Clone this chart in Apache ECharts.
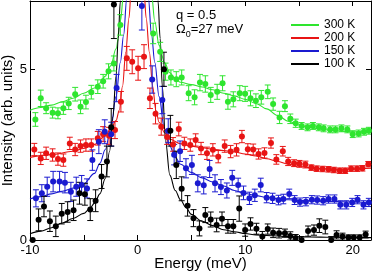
<!DOCTYPE html>
<html><head><meta charset="utf-8">
<script src="https://cdn.jsdelivr.net/npm/echarts@6/dist/echarts.min.js"></script>
<style>html,body{margin:0;padding:0;background:#fff}#c{width:374px;height:274px}</style>
</head><body><div id="c"></div>
<script>
const FONT = '"Liberation Sans", Arial, sans-serif';
const seriesNames = ['300 K', '200 K', '150 K', '100 K'];
const colors = ['#2ee52e', '#e81414', '#1a1ad0', '#000000'];
const xTickLabels = [-10, 0, 10, 20];
const yTickLabels = [0, 5];

// ---- measured points (energy, intensity, error) ----
const x300 = [-9.5,-9.0,-8.5,-7.9,-7.4,-6.9,-6.4,-5.8,-5.3,-4.8,-4.3,-3.7,-3.2,-2.7,-2.2,-1.6,
  1.45,2.1,2.6,3.1,3.6,4.1,4.75,5.3,5.8,6.3,6.8,7.4,7.9,8.4,8.9,9.5,10.0,10.5,11.0,11.5,12.1,12.6,13.2,13.7,14.2,14.7,15.25,15.8,16.3,16.85,17.3,17.9,18.4,18.95,19.5,20.0,20.55,21.05,21.5];
const y300 = [3.53,4.15,3.86,3.73,3.71,3.86,4.00,4.27,3.90,4.04,4.33,4.49,4.65,4.94,5.17,6.3,
  6.05,5.51,4.93,4.76,4.71,4.76,4.30,4.18,4.61,4.57,4.25,4.34,4.59,4.05,4.12,4.30,4.28,4.15,4.08,4.18,4.34,3.98,3.59,3.92,3.55,3.42,3.34,3.30,3.34,3.30,3.27,3.24,3.24,3.27,3.24,3.10,3.12,3.17,3.20];
const e300 = [0.2,0.24,0.16,0.16,0.16,0.18,0.18,0.2,0.2,0.2,0.2,0.2,0.2,0.22,0.22,0.3,
  0.3,0.28,0.25,0.22,0.22,0.22,0.22,0.22,0.24,0.24,0.22,0.22,0.22,0.22,0.22,0.22,0.22,0.22,0.2,0.2,0.2,0.18,0.18,0.16,0.14,0.12,0.1,0.1,0.1,0.1,0.1,0.1,0.1,0.1,0.1,0.1,0.1,0.1,0.1];

const x200 = [-9.6,-9.0,-8.5,-7.9,-7.4,-6.9,-6.3,-5.8,-5.3,-4.8,-4.3,-3.7,-3.2,-2.65,-2.1,-1.55,
  -1.0,-0.5,0.05,0.6,1.15,1.67,2.2,2.75,3.3,3.83,4.35,4.9,5.4,5.9,6.45,7.0,7.5,8.1,8.65,9.2,9.7,10.25,10.75,11.25,11.8,12.4,12.9,13.5,14.0,14.55,15.05,15.6,16.15,16.65,17.2,17.75,18.25,18.8,19.3,19.85,20.4,20.9,21.45];
const y200 = [2.65,2.39,2.54,2.49,2.37,2.34,2.83,2.65,2.75,2.78,2.78,2.98,3.1,3.05,3.22,4.05,
  5.32,5.22,5.03,5.37,4.15,3.7,3.32,3.02,2.8,3.25,2.83,2.78,2.93,2.68,2.54,2.64,2.44,2.75,2.59,2.64,3.03,2.66,2.65,2.52,2.55,2.84,2.36,2.6,2.3,2.25,2.23,2.21,2.12,2.09,2.08,2.07,2.05,2.03,2.03,2.09,2.09,2.1,2.22];
const e200 = [0.18,0.18,0.18,0.18,0.18,0.18,0.18,0.18,0.18,0.18,0.18,0.2,0.22,0.25,0.25,0.3,
  0.35,0.35,0.35,0.35,0.3,0.3,0.25,0.22,0.2,0.2,0.18,0.18,0.18,0.18,0.18,0.18,0.18,0.18,0.18,0.18,0.18,0.16,0.16,0.15,0.15,0.15,0.14,0.14,0.12,0.1,0.1,0.1,0.08,0.08,0.08,0.08,0.08,0.08,0.08,0.08,0.08,0.08,0.08];

const x150 = [-9.45,-8.9,-8.4,-7.85,-7.25,-6.75,-6.2,-5.7,-5.2,-4.7,-4.2,-3.6,-3.05,-2.45,-1.95,
  0.4,1.36,2.3,2.85,3.4,3.95,4.5,5.05,5.6,6.15,6.7,7.2,7.75,8.3,8.8,9.35,9.85,10.4,10.9,11.45,12.0,12.55,13.1,13.55,14.1,14.6,15.1,15.65,16.2,16.7,17.25,17.75,18.3,18.85,19.4,19.95,20.45,21.0,21.5];
const y150 = [1.22,1.37,1.56,1.71,1.71,1.68,1.41,1.56,1.61,1.51,2.34,2.88,3.17,3.1,4.45,
  6.85,4.7,4.1,3.2,2.5,2.6,2.1,2.2,1.66,1.6,2.08,1.66,1.55,1.45,1.82,1.61,1.38,1.22,1.31,1.61,1.24,1.22,1.17,1.2,1.35,1.17,1.11,1.12,1.18,1.17,1.15,1.2,1.2,1.03,1.03,1.1,1.18,1.03,1.1];
const e150 = [0.25,0.25,0.28,0.3,0.3,0.3,0.28,0.28,0.28,0.28,0.3,0.35,0.35,0.35,0.4,
  0.7,0.4,0.4,0.35,0.3,0.3,0.28,0.28,0.25,0.25,0.25,0.25,0.22,0.22,0.22,0.2,0.2,0.18,0.18,0.2,0.15,0.15,0.14,0.14,0.14,0.13,0.12,0.12,0.12,0.12,0.12,0.12,0.12,0.12,0.12,0.12,0.12,0.12,0.12];

const x100 = [-9.75,-9.2,-8.7,-8.15,-7.6,-7.05,-6.5,-5.95,-5.4,-4.9,-4.4,-3.9,-3.35,-2.85,-2.45,-2.2,
  2.45,3.05,3.6,4.1,4.65,5.2,5.75,6.3,6.8,7.35,7.85,8.4,8.9,9.45,10.0,10.5,11.05,11.6,12.1,12.6,13.15,13.7,14.2,14.7,15.25,15.85,16.4,16.9,17.45,18.0,18.5,19.05,19.6,20.1,20.65,21.2];
const y100 = [0.0,0.59,0.98,0.55,0.4,0.77,0.82,0.87,1.37,1.34,0.89,1.15,1.86,2.3,3.3,6.9,
  5.0,3.2,2.2,1.5,1.0,0.64,0.34,0.73,0.6,0.44,0.62,0.4,0.4,0.92,0.29,0.47,0.33,0.1,0.32,0.21,0.2,0.2,0.12,0.06,0.0,0.26,0.29,0.42,0.38,0.0,0.15,0.1,0.07,0.07,0.07,0.16];
const e100 = [0,0.32,0.3,0.3,0.3,0.3,0.3,0.3,0.32,0.32,0.32,0.32,0.35,0.45,0.55,1.0,
  0.5,0.45,0.4,0.35,0.3,0.25,0.22,0.22,0.22,0.2,0.2,0.2,0.2,0.37,0.18,0.18,0.16,0.15,0.15,0.14,0.14,0.12,0.12,0.1,0.1,0.15,0.15,0.2,0.2,0.1,0.12,0.1,0.08,0.08,0.08,0.1];

// ---- fitted curves ----
const fx300 = [-10,-9,-8,-7,-6,-5,-4,-3.5,-3,-2.5,-2,-1.6,-1.3,-1,0,1,1.3,1.6,2,2.5,3,3.5,4,5,6,7,8,9,10,11,12,13,14,15,16,17,18,19,20,21.7];
const fy300 = [3.8,3.88,3.95,4.05,4.15,4.3,4.45,4.6,4.8,5.1,5.6,6.4,7.2,8.2,10,8.2,7.2,6.4,5.7,5.2,4.9,4.72,4.62,4.55,4.48,4.4,4.3,4.22,4.12,4.0,3.84,3.65,3.48,3.37,3.3,3.25,3.21,3.19,3.17,3.16];
const fx200 = [-10,-8,-6,-5,-4,-3,-2.5,-2,-1.7,-1.4,-1.1,-0.8,-0.6,0,0.6,0.8,1.1,1.4,1.7,2,2.5,3,4,5,6,7,8,9,10,11,12,13,14,15,16,17,18,19,20,21.7];
const fy200 = [2.42,2.5,2.6,2.68,2.8,3.05,3.25,3.5,3.8,4.5,5.5,6.5,7.3,9,7.3,6.5,5.5,4.5,3.8,3.45,3.15,2.95,2.82,2.75,2.7,2.66,2.62,2.58,2.52,2.46,2.38,2.3,2.22,2.16,2.12,2.09,2.08,2.07,2.08,2.1];
const fx150 = [-10,-9,-8,-7,-6,-5,-4,-3.5,-3,-2.5,-2,-1.6,-1.3,-1,0,1,1.3,1.6,2,2.5,3,3.5,4,5,6,7,8,9,10,11,12,13,14,15,17,19,21.7];
const fy150 = [1.2,1.27,1.35,1.43,1.52,1.65,1.95,2.25,2.65,3.25,4.2,5.2,6.0,7.1,11,7.1,6.0,5.2,4.2,3.25,2.75,2.42,2.22,1.98,1.82,1.7,1.58,1.45,1.36,1.3,1.25,1.21,1.18,1.16,1.14,1.12,1.1];
const fx100 = [-10,-9,-8,-7,-6,-5,-4.5,-4,-3.5,-3,-2.6,-2.3,-2,-1.8,-1.6,-1.3,0,1.7,1.9,2.1,2.3,2.6,3,3.5,4,4.5,5,6,7,8,9,10,11,12,14,16,18,21.7];
const fy100 = [0.18,0.26,0.36,0.5,0.63,0.78,0.9,1.08,1.35,1.8,2.6,3.6,4.8,5.9,7.0,9.5,20,9.5,7.0,5.9,4.5,2.9,1.9,1.45,1.17,0.95,0.75,0.55,0.42,0.3,0.24,0.19,0.15,0.13,0.1,0.09,0.08,0.07];

const pts = [[x300,y300,e300],[x200,y200,e200],[x150,y150,e150],[x100,y100,e100]];
const fits = [[fx300,fy300],[fx200,fy200],[fx150,fy150],[fx100,fy100]];

function errRender(color) {
  return function (params, api) {
    const x = api.value(0), y = api.value(1), e = api.value(2);
    if (!e) return null;
    const p1 = api.coord([x, y + e]), p2 = api.coord([x, y - e]);
    const cs = params.coordSys;
    const top = Math.max(p1[1], cs.y), bot = Math.min(p2[1], cs.y + cs.height);
    if (top >= bot) return null;
    const px = p1[0], w = 3;
    const st = { stroke: color, lineWidth: 1 };
    const ch = [{ type: 'line', shape: { x1: px, y1: top, x2: px, y2: bot }, style: st }];
    if (p1[1] >= cs.y) ch.push({ type: 'line', shape: { x1: px - w, y1: p1[1], x2: px + w, y2: p1[1] }, style: st });
    if (p2[1] <= cs.y + cs.height) ch.push({ type: 'line', shape: { x1: px - w, y1: p2[1], x2: px + w, y2: p2[1] }, style: st });
    return { type: 'group', children: ch };
  };
}

const series = [];
seriesNames.forEach((name, i) => {
  const c = colors[i];
  const [fx, fy] = fits[i];
  series.push({
    name: name, type: 'line', data: fx.map((v, k) => [v, fy[k]]),
    showSymbol: false, symbol: 'none', smooth: 0.35, smoothMonotone: 'x',
    lineStyle: { color: c, width: 1.1 }, itemStyle: { color: c }, clip: true, z: 2
  });
  const [px, py, pe] = pts[i];
  series.push({
    name: name + ' err', type: 'custom', data: px.map((v, k) => [v, py[k], pe[k]]),
    renderItem: errRender(c), clip: true, z: 3, silent: true
  });
  series.push({
    name: name + ' pts', type: 'scatter', data: px.map((v, k) => [v, py[k]]),
    symbol: 'circle', symbolSize: 6, itemStyle: { color: c, opacity: 1 }, clip: true, z: 4
  });
});

const chart = echarts.init(document.getElementById('c'), null, { renderer: 'canvas' });
const axisCommon = {
  axisLine: { show: true, onZero: false, lineStyle: { color: '#000', width: 1 } },
  axisTick: { show: true, inside: true, length: 5, lineStyle: { color: '#000' } },
  splitLine: { show: false }
};
chart.setOption({
  animation: false,
  backgroundColor: '#fff',
  textStyle: { fontFamily: FONT },
  grid: { left: 30, top: 1, width: 341, height: 239, containLabel: false, outerBoundsMode: 'none' },
  xAxis: [
    Object.assign({
      type: 'value', min: -10, max: 21.7, interval: 5, position: 'bottom',
      axisLabel: { formatter: v => xTickLabels.includes(v) ? String(v) : '', fontSize: 13, color: '#000', margin: 4, fontFamily: FONT },
      name: 'Energy (meV)', nameLocation: 'middle', nameGap: 16, nameMoveOverlap: false,
      nameTextStyle: { fontSize: 15, color: '#000', fontFamily: FONT }
    }, axisCommon),
    Object.assign({
      type: 'value', min: -10, max: 21.7, interval: 5, position: 'top', axisLabel: { show: false }
    }, axisCommon)
  ],
  yAxis: [
    Object.assign({
      type: 'value', min: 0, max: 7, interval: 5, position: 'left',
      axisLabel: { formatter: v => yTickLabels.includes(v) ? String(v) : '', fontSize: 13, color: '#000', margin: 3, fontFamily: FONT },
      name: 'Intensity (arb. units)', nameLocation: 'middle', nameGap: 15, nameMoveOverlap: false,
      nameTextStyle: { fontSize: 15, color: '#000', fontFamily: FONT }
    }, axisCommon),
    Object.assign({
      type: 'value', min: 0, max: 7, interval: 5, position: 'right', axisLabel: { show: false }
    }, axisCommon)
  ],
  legend: {
    data: seriesNames, orient: 'vertical', left: 291, top: 19, padding: 0,
    icon: 'rect', itemWidth: 28, itemHeight: 2, itemGap: 1,
    textStyle: { fontSize: 12, color: '#000', fontFamily: FONT, padding: [0,0,0,0] },
    selectedMode: false
  },
  graphic: [
    { type: 'text', left: 176, top: 9, style: { text: 'q = 0.5', font: '13px ' + FONT, fill: '#000' } },
    { type: 'text', left: 176, top: 23, style: {
        text: '{m|Ω}{s|0}{m|=27 meV}',
        rich: { m: { fontSize: 13, fontFamily: FONT, fill: '#000', lineHeight: 16, verticalAlign: 'top' },
                s: { fontSize: 9, fontFamily: FONT, fill: '#000', lineHeight: 16, verticalAlign: 'bottom', padding: [6,0,0,0] } }
      } }
  ],
  series: series
});
</script>
</body></html>
